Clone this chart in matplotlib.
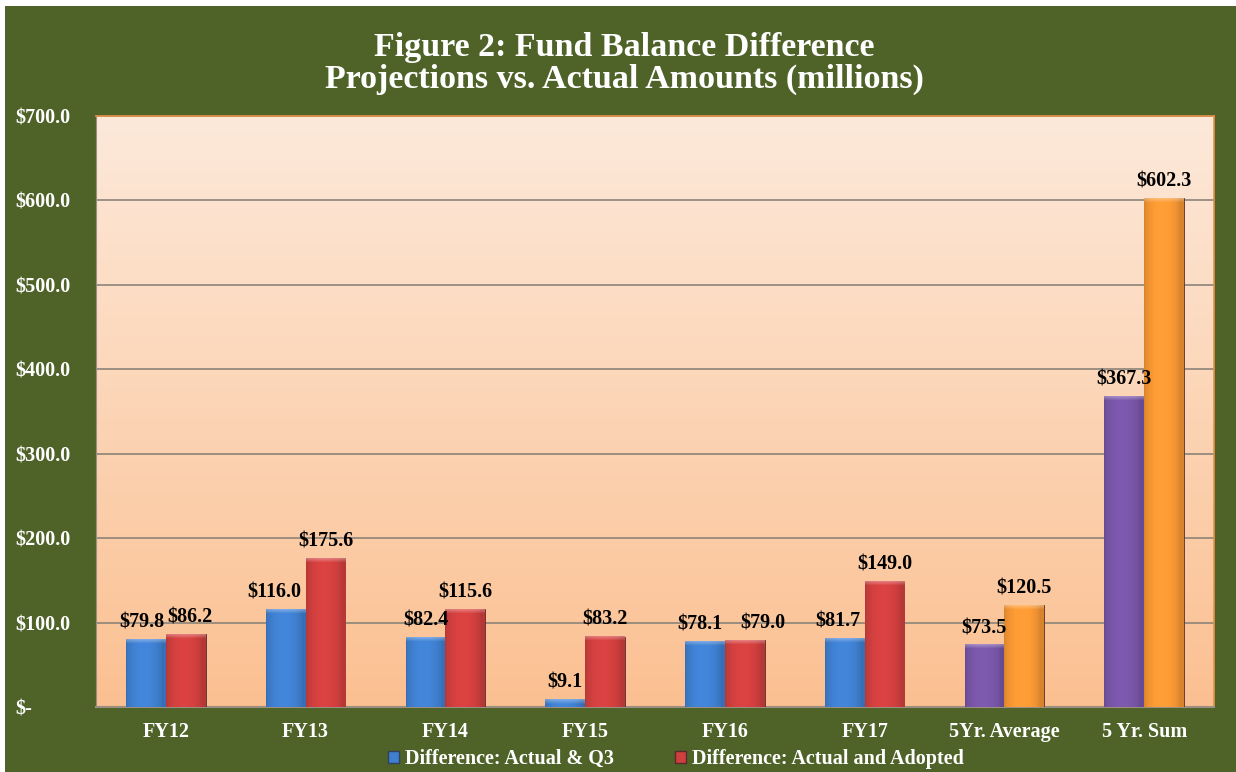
import numpy as np
import matplotlib
matplotlib.use("Agg")
import matplotlib.pyplot as plt
from matplotlib.patches import Rectangle, Patch
from matplotlib.colors import to_rgb

# Data (millions)
categories = ['FY12', 'FY13', 'FY14', 'FY15', 'FY16', 'FY17', '5Yr. Average', '5 Yr. Sum']
q3_diff = [79.8, 116.0, 82.4, 9.1, 78.1, 81.7, 73.5, 367.3]
adopted_diff = [86.2, 175.6, 115.6, 83.2, 79.0, 149.0, 120.5, 602.3]
y_ticks = [0, 100, 200, 300, 400, 500, 600, 700]
y_labels = ['$-', '$100.0', '$200.0', '$300.0', '$400.0', '$500.0', '$600.0', '$700.0']

# colours: the two summary groups use purple / orange instead of blue / red
blue, red = '#3F7FCF', '#CF3F3E'
purple, orange = '#7755A6', '#F59633'
colors1 = [blue] * 6 + [purple] * 2
colors2 = [red] * 6 + [orange] * 2
green = '#4F6228'

plt.rcParams['font.family'] = ['Liberation Serif', 'DejaVu Serif']
plt.rcParams['font.weight'] = 'bold'

fig = plt.figure(figsize=(12.36, 7.72), dpi=100, facecolor='white')
# green panel behind everything
fig.patches.append(Rectangle((5 / 1236, 0), 1 - 5 / 1236, 1 - 6 / 772,
                             transform=fig.transFigure, facecolor=green,
                             edgecolor='none', zorder=-10))

ax = fig.add_axes([96 / 1236, 65 / 772, 1118 / 1236, 591 / 772])
px_per_unit = 591 / 700

x = np.arange(len(categories))
w = 0.285

# peach gradient background
grad = np.linspace(0, 1, 256).reshape(-1, 1)
top = np.array([253, 233, 218]) / 255
bottom = np.array([251, 192, 145]) / 255
img = top[None, None, :] * (1 - grad[:, :, None]) + bottom[None, None, :] * grad[:, :, None]
ax.imshow(img, extent=[-0.5, len(categories) - 0.5, 0, 700], aspect='auto', zorder=0)

for yv in y_ticks[1:]:
    ax.axhline(yv, color='#8C8478', lw=1.2, zorder=1)


def shade_bar(bar, color):
    # bevelled look: horizontal shading plus a soft light cap on top
    base = np.array(to_rgb(color))
    u = np.linspace(0, 1, 40)
    prof = 0.88 + 0.18 * np.sin(np.pi * np.clip(u * 1.1, 0, 1)) ** 0.6
    h_px = max(int(bar.get_height() * px_per_unit), 2)
    im = np.clip(base[None, None, :] * prof[None, :, None], 0, 1).repeat(h_px, axis=0)
    cap = min(4, h_px)
    for i in range(cap):
        k = 0.3 * (1 - i / cap)
        im[i] = im[i] * (1 - k) + k
    bx, bw, bh = bar.get_x(), bar.get_width(), bar.get_height()
    ax.imshow(im, extent=[bx, bx + bw, 0, bh], aspect='auto', zorder=3.5,
              clip_path=bar, interpolation='bilinear')


b1 = ax.bar(x - w / 2, q3_diff, w, color=colors1, edgecolor='#3a3a4a', lw=0.6, zorder=3)
b2 = ax.bar(x + w / 2, adopted_diff, w, color=colors2, edgecolor='#5a2a2a', lw=0.6, zorder=3)
for bars, cols in ((b1, colors1), (b2, colors2)):
    for b, c in zip(bars, cols):
        shade_bar(b, c)

# small sideways nudges of some labels, as in the original
nudge1 = [-3, -8, 0, 0, -4, -5, 0, 0]
nudge2 = [3, 0, 0, 0, 13, 0, 0, 0]
for bars, vals, nudge in ((b1, q3_diff, nudge1), (b2, adopted_diff, nudge2)):
    for b, v, dx in zip(bars, vals, nudge):
        ax.annotate(f'${v:.1f}', (b.get_x() + b.get_width() / 2, v),
                    xytext=(dx, 5), textcoords='offset points', ha='center', va='bottom',
                    fontsize=14.5, fontweight='bold', color='black', zorder=5)

ax.set_xlim(-0.5, len(categories) - 0.5)
ax.set_ylim(0, 700)
ax.set_xticks(x)
ax.set_xticklabels(categories, color='white', fontsize=14.5, fontweight='bold')
ax.set_yticks(y_ticks)
ax.set_yticklabels(y_labels, color='white', fontsize=14.5, fontweight='bold')
for lab in ax.get_yticklabels():
    lab.set_horizontalalignment('left')
ax.tick_params(axis='y', length=0, pad=58)
ax.tick_params(axis='x', length=0, pad=11)

for s in ['top', 'right']:
    ax.spines[s].set_color('#E8914A')
    ax.spines[s].set_linewidth(1.2)
ax.spines['left'].set_color('#9a8f80')
ax.spines['bottom'].set_color('#9a8f80')
ax.spines['bottom'].set_linewidth(1.5)

fig.text(0.505, 0.918, 'Figure 2: Fund Balance Difference\nProjections vs. Actual Amounts (millions)',
         ha='center', va='center', color='white', fontsize=24.5, fontweight='bold', linespacing=1.05)

handles = [Patch(facecolor=blue, edgecolor='#33415a'), Patch(facecolor=red, edgecolor='#5a2a2a')]
leg = fig.legend(handles, ['Difference: Actual & Q3', 'Difference: Actual and Adopted'],
                 loc='center', bbox_to_anchor=(0.547, 0.017), ncol=2, frameon=False,
                 handlelength=0.55, handleheight=0.55, handletextpad=0.3, columnspacing=3.0,
                 prop={'size': 14.5, 'weight': 'bold'})
for t in leg.get_texts():
    t.set_color('white')

fig.savefig('out.png', dpi=100, facecolor='white')
